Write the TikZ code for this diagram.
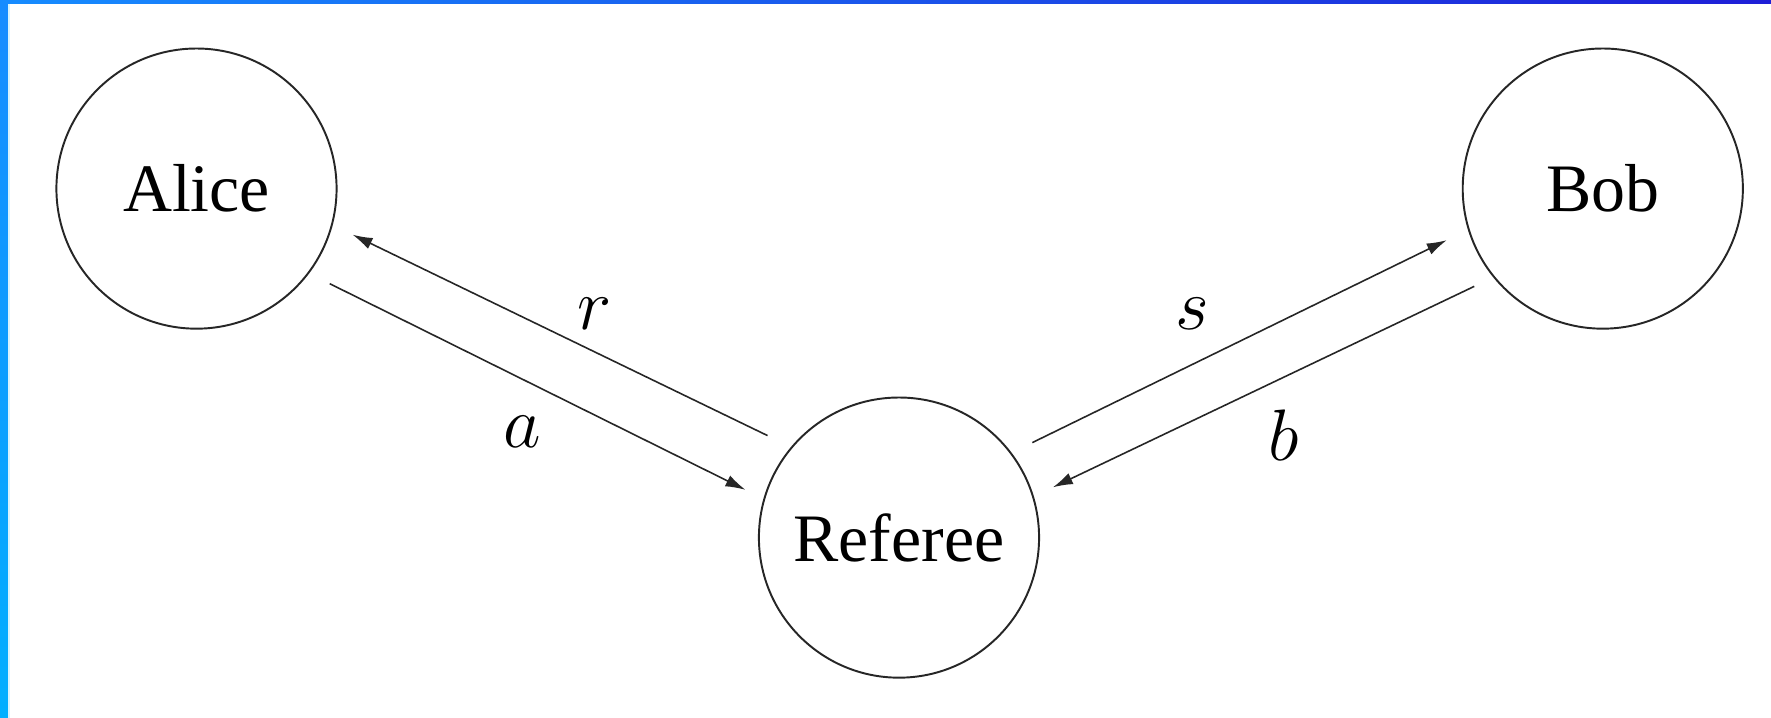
\documentclass[tikz,border=0pt]{standalone}
\usepackage{fontspec}
\setmainfont{Liberation Serif}
\usetikzlibrary{arrows.meta}
\definecolor{barL}{RGB}{22,140,255}
\definecolor{barR}{RGB}{30,30,215}
\definecolor{barB}{RGB}{0,175,255}
\begin{document}
\begin{tikzpicture}[x=0.01cm,y=0.01cm,
  party/.style={circle, draw=black!85, line width=0.55pt, minimum size=2.8cm, inner sep=0pt, font=\fontsize{19.3}{23}\selectfont},
  msg/.style={line width=0.45pt, draw=black!85, -{Latex[length=0.2cm,width=0.12cm]}},
  lbl/.style={font=\fontsize{19.3}{23}\selectfont, inner sep=0pt}]
\useasboundingbox (0,0) rectangle (1771,718);
\fill[white] (0,0) rectangle (1771,718);
\shade[left color=barL, right color=barR] (0,714) rectangle (1771,718);
\shade[top color=barL, bottom color=barB] (0,0) rectangle (8,718);
\fill[cyan!15] (8,0) rectangle (10,714);

\node[party] (A) at (196.5,529.4) {Alice};
\node[party] (B) at (1602.8,529.4) {Bob};
\node[party] (R) at (899,180.4) {Referee};

\draw[msg, shorten <=0.26cm, shorten >=0.22cm] (R.140.2) -- (A.-15.4);
\draw[msg, shorten <=0.23cm, shorten >=0.2cm] (A.-37.7) -- (R.164);
\draw[msg, shorten <=0.23cm, shorten >=0.235cm] (R.37.7) -- (B.-163.95);
\draw[msg, shorten <=0.21cm, shorten >=0.21cm] (B.-141.3) -- (R.17.5);

\node[lbl] (lr) at (595,404) {$r$};
\node[lbl] (la) at (522,286.5) {$a$};
\node[lbl] (ls) at (1192,404) {$s$};
\node[lbl] (lb) at (1284,283) {$b$};
\end{tikzpicture}
\end{document}
